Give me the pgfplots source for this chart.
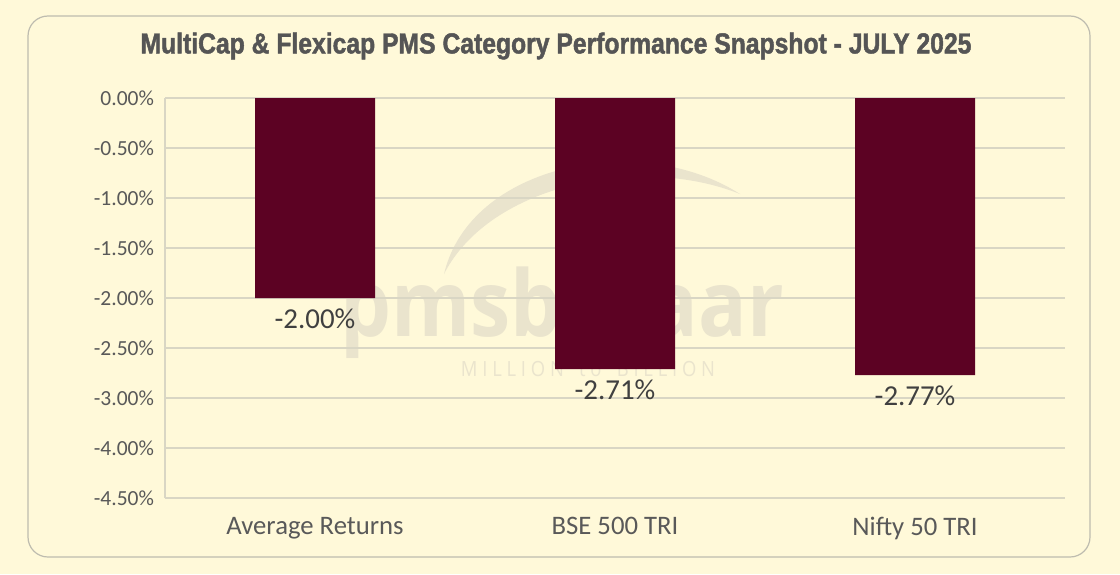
\documentclass[border=0pt]{standalone}
\usepackage{fontspec}
\usepackage{pgfplots}
\pgfplotsset{compat=1.18}
\setmainfont{Carlito}
\newfontfamily\titlefont[FakeStretch=0.855,FakeBold=1.5]{Liberation Sans}
\newfontfamily\wmfont[FakeStretch=0.88]{Open Sans}
\definecolor{bg}{RGB}{255,249,217}
\definecolor{barc}{RGB}{92,2,35}
\definecolor{txt}{RGB}{89,89,89}
\definecolor{grd}{RGB}{217,214,196}
\definecolor{wm}{RGB}{234,228,205}
\pgfplotstableread{
x y
0 -2.00
1 -2.71
2 -2.77
}\datatable
\begin{document}
\begin{tikzpicture}[x=1bp,y=1bp]
\fill[bg] (0,0) rectangle (560,287);
\draw[color={rgb,255:red,190;green,188;blue,175}, line width=0.6bp, rounded corners=10bp, fill=bg] (14,8.5) rectangle (545,279);
\node[font=\titlefont\bfseries\fontsize{14.5}{16}\selectfont, text={rgb,255:red,85;green,85;blue,85}] at (278,264) {MultiCap \& Flexicap PMS Category Performance Snapshot - JULY 2025};
% watermark
\node[font=\wmfont\bfseries\fontsize{46}{48}\selectfont, text=wm, anchor=base, inner sep=0pt] at (281,119) {pmsbazaar};
\node[font=\wmfont\fontsize{10.5}{12}\selectfont, text=wm, anchor=base, inner sep=0pt] at (294,99) {M I L L I O N \enspace t o \enspace B I L L I O N};
\fill[wm] (222,150) .. controls (235,205) and (320,222) .. (370,190) .. controls (320,210) and (245,195) .. (222,150);
\begin{axis}[
  at={(82.5bp,38bp)}, anchor=south west,
  scale only axis, width=450bp, height=200bp,
  xmin=-0.5, xmax=2.5, ymin=-4, ymax=0,
  axis line style={grd, line width=0.6bp},
  axis x line*=bottom, axis y line*=left,
  ymajorgrids, grid style={grd, line width=0.6bp},
  major tick length=0pt,
  ytick={-4,-3.5,-3,-2.5,-2,-1.5,-1,-0.5,0},
  yticklabels={-4.50\%,-4.00\%,-3.00\%,-2.50\%,-2.00\%,-1.50\%,-1.00\%,-0.50\%,0.00\%},
  xtick={0,1,2},
  xticklabels={Average Returns, BSE 500 TRI, Nifty 50 TRI},
  tick label style={text=txt},
  yticklabel style={font=\fontsize{10.8}{12}\selectfont, xshift=-2bp},
  xticklabel style={font=\fontsize{13.4}{15}\selectfont, yshift=-6bp},
  ybar, bar width=60bp,
  nodes near coords={\pgfmathprintnumber[fixed,precision=2,fixed zerofill,assume math mode=true]{\pgfplotspointmeta}\%},
  nodes near coords style={font=\fontsize{14.5}{16}\selectfont, text={rgb,255:red,64;green,64;blue,64}, yshift=-2bp},
  clip=false,
]
\addplot[fill=barc, draw=none, bar shift=0pt] table[x=x,y=y] {\datatable};
\end{axis}
\end{tikzpicture}
\end{document}
